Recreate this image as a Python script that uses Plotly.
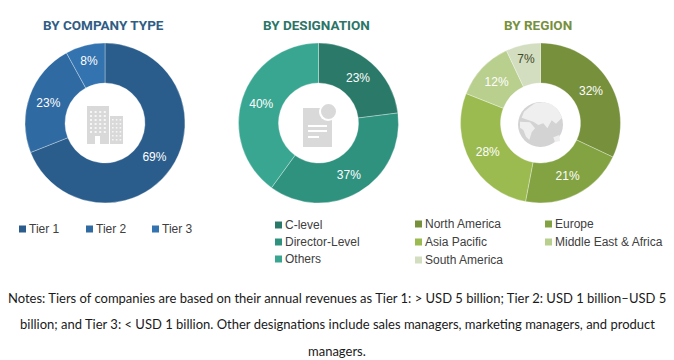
import plotly.graph_objects as go

W, H = 674, 360
company_labels = ["Tier 1", "Tier 2", "Tier 3"]
company_values = [69, 23, 8]
company_colors = ["#2a5d8c", "#2f6aa3", "#3273b0"]
design_labels = ["C-level", "Director-Level", "Others"]
design_values = [23, 37, 40]
design_colors = ["#2b7a69", "#2f927f", "#38a690"]
region_labels = ["North America", "Europe", "Asia Pacific", "Middle East & Africa", "South America"]
region_values = [32, 21, 28, 12, 7]
region_colors = ["#76903c", "#83a342", "#9bbb50", "#b9cf8e", "#d3dec0"]
titles = ["BY COMPANY TYPE", "BY DESIGNATION", "BY REGION"]
title_colors = ["#2f5d84", "#2b7566", "#76903c"]
note_lines = [
    "Notes: Tiers of companies are based on their annual revenues as Tier 1: > USD 5 billion; Tier 2: USD 1 billion–USD 5",
    "billion; and Tier 3: < USD 1 billion. Other designations include sales managers, marketing managers, and product",
    "managers.",
]

def px(x): return x / W
def py(y): return 1 - y / H

fig = go.Figure()
shapes, ann = [], []

def donut(labels, values, colors, cx, cy, r, text_colors):
    fig.add_trace(go.Pie(
        labels=labels, values=values, hole=0.5, sort=False, direction="clockwise", rotation=0,
        domain=dict(x=[px(cx - r), px(cx + r)], y=[py(cy + r), py(cy - r)]),
        marker=dict(colors=colors, line=dict(color="rgba(255,255,255,0.45)", width=0.7)),
        texttemplate="%{value}%", textposition="inside", insidetextorientation="horizontal",
        textfont=dict(family="Liberation Sans", size=12, color=text_colors),
        showlegend=False, hoverinfo="label+percent",
    ))

donut(company_labels, company_values, company_colors, 105, 123, 80, ["white"] * 3)
donut(design_labels, design_values, design_colors, 318.5, 123, 80, ["white"] * 3)
donut(region_labels, region_values, region_colors, 540.5, 123, 80, ["white"] * 4 + ["#3f4a2a"])

def text(x, y, s, size, color, family="Liberation Sans", anchor="left", bold=False):
    ann.append(dict(x=px(x), y=py(y), xref="paper", yref="paper", text=f"<b>{s}</b>" if bold else s,
                    showarrow=False, xanchor=anchor, yanchor="middle",
                    font=dict(family=family, size=size, color=color)))

def rect(x0, y0, x1, y1, color, kind="rect"):
    shapes.append(dict(type=kind, xref="paper", yref="paper", x0=px(x0), x1=px(x1), y0=py(y0), y1=py(y1),
                       fillcolor=color, line=dict(width=0), layer="above"))

def path(points, color):
    d = "M" + " L".join(f"{px(x):.5f},{py(y):.5f}" for x, y in points) + " Z"
    shapes.append(dict(type="path", xref="paper", yref="paper", path=d, fillcolor=color,
                       line=dict(width=0), layer="above"))

# titles
for s, x, c in zip(titles, [103, 316, 538], title_colors):
    text(x, 25, s, 13.5, c, family="Roboto", anchor="center", bold=True)

# legends
def legend(labels, colors, pos):
    for lab, col, (sx, y) in zip(labels, colors, pos):
        rect(sx, y - 3.5, sx + 7, y + 3.5, col)
        text(sx + 8, y, lab, 12, "#404040")

legend(company_labels, company_colors, [(19, 229), (86, 229), (152, 229)])
legend(design_labels, design_colors, [(275, 225), (275, 242), (275, 259)])
legend(region_labels, region_colors, [(415, 224), (545, 224), (415, 242), (545, 242), (415, 260)])

# notes
for s, y in zip(note_lines, [298, 324, 351]):
    text(337, y, s, 13, "#1a1a1a", family="Lato", anchor="center")

# building icon
G = "#d9d9d9"
rect(87, 106, 109, 144, G)
rect(110, 116, 123, 144, G)
for r_ in range(6):
    for c_ in range(4):
        rect(90 + c_ * 4.6, 111 + r_ * 4, 92 + c_ * 4.6, 113 + r_ * 4, "#f6f6f6")
for r_ in range(6):
    for c_ in range(3):
        rect(112 + c_ * 3.8, 119 + r_ * 4, 113.6 + c_ * 3.8, 120.6 + r_ * 4, "#f6f6f6")
rect(95, 136, 100, 144, "white")

# document icon
rect(303, 108, 332, 147, G)
rect(319, 103, 337, 121, "white", "circle")
rect(321, 104, 336, 119, G, "circle")
for y, x1 in [(126, 327), (131, 327), (137, 319)]:
    rect(308, y - 1, x1, y + 1, "white")

# globe icon: darker ocean with light land masses
rect(518, 102, 563, 147, "#d3d3d3", "circle")
def land(points):
    path([(510 + a / 3, 95 + b / 3) for a, b in points], "#efefef")
land([(75, 25), (100, 21), (125, 28), (145, 45), (156, 68), (138, 86), (125, 76), (112, 100),
      (100, 85), (85, 90), (70, 80), (52, 74), (35, 68), (42, 50), (60, 35)])
land([(30, 80), (60, 82), (75, 100), (65, 112), (58, 135), (48, 125), (40, 105), (30, 98)])
land([(130, 127), (148, 120), (150, 138), (135, 142)])

fig.update_layout(width=W, height=H, margin=dict(l=0, r=0, t=0, b=0), paper_bgcolor="white",
                  shapes=shapes, annotations=ann, showlegend=False)
fig.write_html("out.html", config=dict(displayModeBar=False),
               post_script="document.body.style.margin='0';document.documentElement.style.overflow='hidden';")
